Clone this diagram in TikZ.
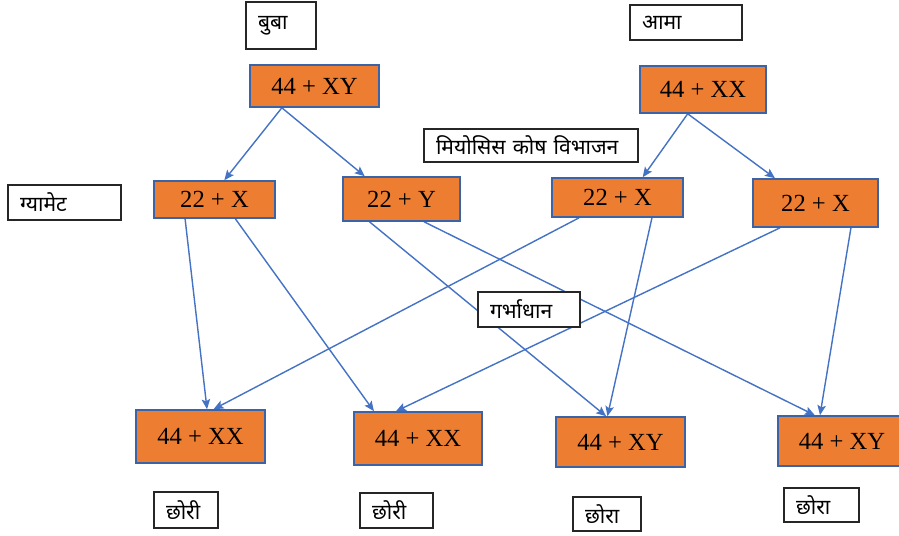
\documentclass[tikz,border=0pt]{standalone}
\usepackage{fontspec}
\setmainfont{Liberation Serif}
\newfontfamily\devfont[Script=Devanagari]{Noto Sans}
\usepackage{xcolor}
\usetikzlibrary{backgrounds,calc,arrows.meta}
\definecolor{cellfill}{HTML}{ED7D31}
\definecolor{celledge}{HTML}{3A63A8}
\definecolor{linkblue}{HTML}{4472C4}

\begin{document}
\begin{tikzpicture}[x=0.02cm,y=-0.02cm]
  \tikzstyle{cell} = [draw=celledge,fill=cellfill,line width=0.9pt,inner sep=0pt,font=\fontsize{14}{16}\selectfont]
  \tikzstyle{namebox} = [draw=black!85,fill=white,line width=0.6pt,inner xsep=0.24cm,inner ysep=0pt,align=left,font=\devfont\fontsize{12}{14}\selectfont]
  \tikzstyle{link} = [linkblue,line width=0.8pt,-{Stealth[length=2mm,width=1.7mm,inset=0.4mm]}]
  \useasboundingbox (0,0) rectangle (899,535);
  % Parents.
  \node[namebox,minimum width=1.4cm,minimum height=0.94cm,text width=0.92cm] (dadtag) at (281,25.5) {बुबा};
  \node[namebox,minimum width=2.24cm,minimum height=0.7cm,text width=1.76cm] (mumtag) at (686,22.5) {आमा};
  \node[cell,minimum width=2.58cm,minimum height=0.84cm] (dad) at (314.5,86) {44 + XY};
  \node[cell,minimum width=2.52cm,minimum height=0.94cm] (mum) at (703,89.5) {44 + XX};
  % Gametes.
  \node[namebox,minimum width=4.28cm,minimum height=0.66cm,text width=3.8cm] (meiosis) at (531,145.5) {मियोसिस कोष विभाजन};
  \node[namebox,minimum width=2.26cm,minimum height=0.7cm,text width=1.78cm] (gametetag) at (64.5,202.5) {ग्यामेट};
  \node[cell,minimum width=2.42cm,minimum height=0.74cm] (g1) at (214.5,199.5) {22 + X};
  \node[cell,minimum width=2.34cm,minimum height=0.88cm] (g2) at (401.5,199) {22 + Y};
  \node[cell,minimum width=2.62cm,minimum height=0.78cm] (g3) at (617.5,197.5) {22 + X};
  \node[cell,minimum width=2.5cm,minimum height=0.96cm] (g4) at (815.5,203) {22 + X};
  \node[namebox,minimum width=2.04cm,minimum height=0.7cm,text width=1.56cm] (fertilise) at (529,309.5) {गर्भाधान};
  % Children.
  \node[cell,minimum width=2.58cm,minimum height=1.06cm] (b1) at (200.5,436.5) {44 + XX};
  \node[cell,minimum width=2.56cm,minimum height=1.06cm] (b2) at (418,438.5) {44 + XX};
  \node[cell,minimum width=2.58cm,minimum height=1.0cm] (b3) at (620.5,442) {44 + XY};
  \node[cell,minimum width=2.56cm,minimum height=1.0cm] (b4) at (842,441) {44 + XY};
  \node[namebox,minimum width=1.28cm,minimum height=0.72cm,text width=0.8cm] (girl1) at (186,510) {छोरी};
  \node[namebox,minimum width=1.46cm,minimum height=0.7cm,text width=0.98cm] (girl2) at (396.5,510.5) {छोरी};
  \node[namebox,minimum width=1.36cm,minimum height=0.68cm,text width=0.88cm] (boy1) at (607,514) {छोरा};
  \node[namebox,minimum width=1.5cm,minimum height=0.68cm,text width=1.02cm] (boy2) at (821.5,505) {छोरा};
  \begin{pgfonlayer}{background}
    % Meiosis and fertilisation arrows.
    \foreach \a/\p/\b/\q in {dad/.25/g1/.58, dad/.25/g2/.19, mum/.38/g3/.69, mum/.38/g4/.18,
        g1/.26/b1/.55, g1/.67/b2/.16, g2/.23/b3/.39, g2/.69/b4/.29,
        g3/.21/b1/.6, g3/.76/b3/.4, g4/.22/b2/.33, g4/.78/b4/.33}
      \draw[link] ($(\a.south west)!\p!(\a.south east)$) -- ($(\b.north west)!\q!(\b.north east)$);
  \end{pgfonlayer}
\end{tikzpicture}
\end{document}
